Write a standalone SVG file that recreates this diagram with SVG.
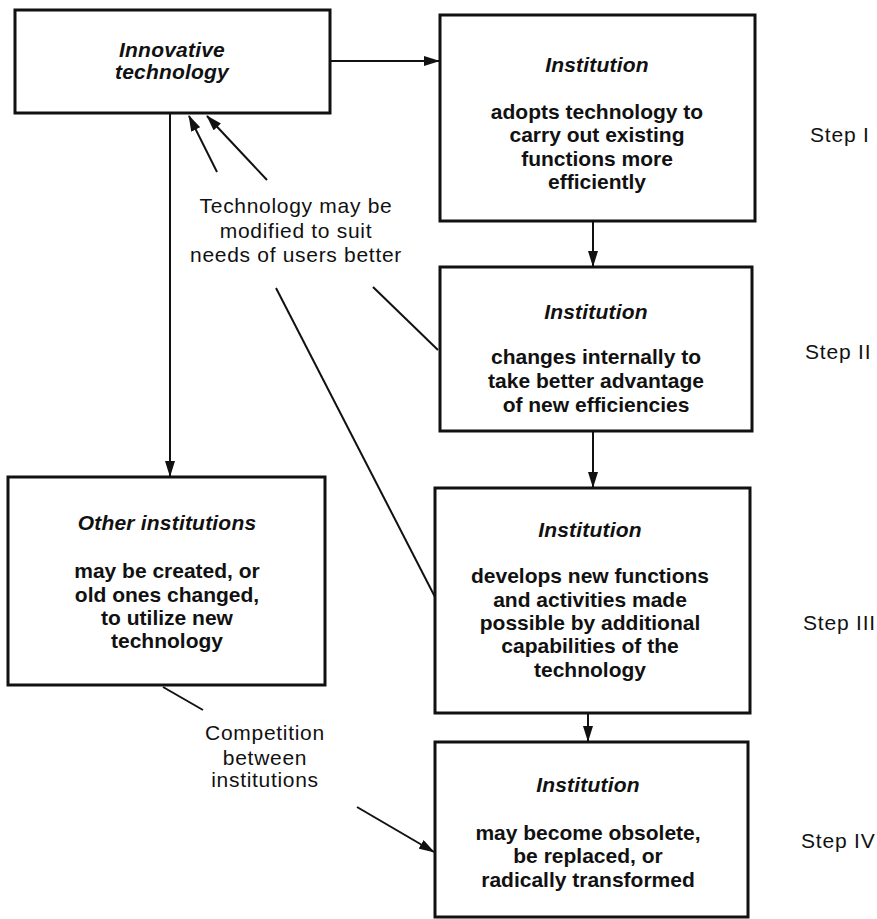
<svg xmlns="http://www.w3.org/2000/svg" width="877" height="919" viewBox="0 0 877 919">
<style>
.box{fill:#fff;stroke:#111;stroke-width:3}
.t{font-family:"Liberation Sans",Arial,sans-serif;font-size:21px;font-weight:bold;fill:#111;text-anchor:middle}
.ti{font-family:"Liberation Sans",Arial,sans-serif;font-size:21px;font-weight:bold;font-style:italic;fill:#111;text-anchor:middle;letter-spacing:0.2px}
.lab{font-family:"Liberation Sans",Arial,sans-serif;font-size:21px;fill:#111;text-anchor:middle;letter-spacing:0.7px}
.step{font-family:"Liberation Sans",Arial,sans-serif;font-size:21px;fill:#111;letter-spacing:0.8px}
.c{fill:none;stroke:#111;stroke-width:2}
</style>
<defs>
<marker id="ah" viewBox="0 0 16 10" refX="15" refY="5" markerWidth="16" markerHeight="10" markerUnits="userSpaceOnUse" orient="auto">
<path d="M0,0 L16,5 L0,10 Z" fill="#111"/>
</marker>
</defs>
<g id="connectors">
<line class="c" x1="330" y1="61" x2="439" y2="61" marker-end="url(#ah)"/>
<line class="c" x1="593" y1="222" x2="593" y2="266" marker-end="url(#ah)"/>
<line class="c" x1="593" y1="432" x2="593" y2="487" marker-end="url(#ah)"/>
<line class="c" x1="588" y1="714" x2="588" y2="741" marker-end="url(#ah)"/>
<line class="c" x1="170" y1="114" x2="170" y2="476" marker-end="url(#ah)"/>
<line class="c" x1="217" y1="172" x2="189" y2="116" marker-end="url(#ah)"/>
<line class="c" x1="267" y1="180" x2="207" y2="116" marker-end="url(#ah)"/>
<line class="c" x1="276" y1="288" x2="435" y2="597"/>
<line class="c" x1="373" y1="287" x2="438" y2="350"/>
<line class="c" x1="163" y1="687" x2="203" y2="710"/>
<line class="c" x1="357" y1="807" x2="434" y2="852" marker-end="url(#ah)"/>
</g>
<g id="innovative-technology">
<rect class="box" x="15" y="10" width="315" height="103"/>
<text class="ti" x="172" y="57">Innovative</text>
<text class="ti" x="172" y="79">technology</text>
</g>
<g id="step1">
<rect class="box" x="440" y="15" width="315" height="206"/>
<text class="ti" x="597" y="72">Institution</text>
<text class="t" x="597" y="119">adopts technology to</text>
<text class="t" x="597" y="142">carry out existing</text>
<text class="t" x="597" y="166">functions more</text>
<text class="t" x="597" y="189">efficiently</text>
</g>
<g id="step2">
<rect class="box" x="440" y="267" width="312" height="164"/>
<text class="ti" x="596" y="319">Institution</text>
<text class="t" x="596" y="364">changes internally to</text>
<text class="t" x="596" y="388">take better advantage</text>
<text class="t" x="596" y="412">of new efficiencies</text>
</g>
<g id="step3">
<rect class="box" x="435" y="488" width="315" height="225"/>
<text class="ti" x="590" y="537">Institution</text>
<text class="t" x="590" y="583">develops new functions</text>
<text class="t" x="590" y="607">and activities made</text>
<text class="t" x="590" y="630">possible by additional</text>
<text class="t" x="590" y="653">capabilities of the</text>
<text class="t" x="590" y="677">technology</text>
</g>
<g id="step4">
<rect class="box" x="435" y="742" width="313" height="175"/>
<text class="ti" x="588" y="792">Institution</text>
<text class="t" x="588" y="840">may become obsolete,</text>
<text class="t" x="588" y="863">be replaced, or</text>
<text class="t" x="588" y="887">radically transformed</text>
</g>
<g id="other-institutions">
<rect class="box" x="8" y="477" width="317" height="208"/>
<text class="ti" x="167" y="530">Other institutions</text>
<text class="t" x="167" y="578">may be created, or</text>
<text class="t" x="167" y="602">old ones changed,</text>
<text class="t" x="167" y="625">to utilize new</text>
<text class="t" x="167" y="648">technology</text>
</g>
<g id="label-modified">
<text class="lab" x="296" y="213">Technology may be</text>
<text class="lab" x="296" y="238">modified to suit</text>
<text class="lab" x="296" y="262">needs of users better</text>
</g>
<g id="label-competition">
<text class="lab" x="265" y="740">Competition</text>
<text class="lab" x="265" y="765">between</text>
<text class="lab" x="265" y="787">institutions</text>
</g>
<g id="steps">
<text class="step" x="810" y="142">Step I</text>
<text class="step" x="805" y="359">Step II</text>
<text class="step" x="803" y="630">Step III</text>
<text class="step" x="801" y="848">Step IV</text>
</g>
</svg>
